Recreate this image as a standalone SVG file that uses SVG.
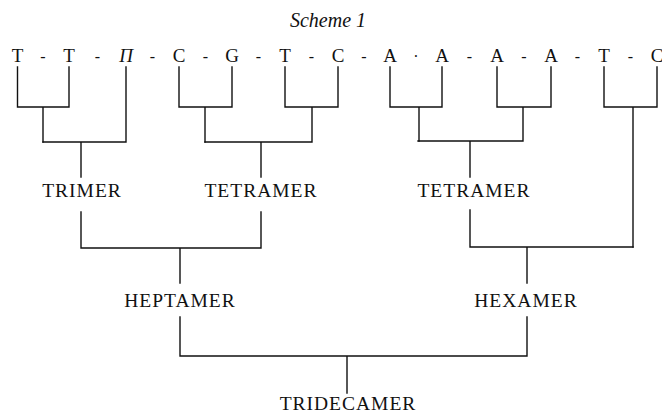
<svg xmlns="http://www.w3.org/2000/svg" width="662" height="413" viewBox="0 0 662 413">
<style>
.bg{fill:#ffffff}
.ln{fill:none;stroke:#111;stroke-width:1.4;stroke-linecap:square}
.seq{font-family:"Liberation Serif","Times New Roman",serif;font-size:19px;fill:#111;text-anchor:middle}
.dash{font-family:"Liberation Serif","Times New Roman",serif;font-size:16px;fill:#111;text-anchor:middle}
.lbl{font-family:"Liberation Serif","Times New Roman",serif;font-size:19.5px;letter-spacing:1px;fill:#111;text-anchor:middle}
.ttl{font-family:"Liberation Serif","Times New Roman",serif;font-size:20px;font-style:italic;fill:#111;text-anchor:middle}
</style>
<rect class="bg" x="0" y="0" width="662" height="413"/>
<text class="ttl" x="328" y="27">Scheme 1</text>
<g id="sequence">
<text class="seq" x="17.5" y="62">T</text>
<text class="seq" x="69" y="62">T</text>
<text class="seq" x="126" y="62" font-style="italic">П</text>
<text class="seq" x="179" y="62">C</text>
<text class="seq" x="232" y="62">G</text>
<text class="seq" x="285" y="62">T</text>
<text class="seq" x="338" y="62">C</text>
<text class="seq" x="390" y="62">A</text>
<text class="seq" x="442" y="62">A</text>
<text class="seq" x="497" y="62">A</text>
<text class="seq" x="551" y="62">A</text>
<text class="seq" x="604" y="62">T</text>
<text class="seq" x="657" y="62">C</text>
<text class="dash" x="43" y="62">-</text>
<text class="dash" x="97.5" y="62">-</text>
<text class="dash" x="152.5" y="62">-</text>
<text class="dash" x="205.5" y="62">-</text>
<text class="dash" x="258.5" y="62">-</text>
<text class="dash" x="311.5" y="62">-</text>
<text class="dash" x="364" y="62">-</text>
<text class="dash" x="416" y="62">·</text>
<text class="dash" x="469.5" y="62">-</text>
<text class="dash" x="524" y="62">-</text>
<text class="dash" x="577.5" y="62">-</text>
<text class="dash" x="630.5" y="62">-</text>
</g>
<g id="trimer"><text class="lbl" x="82" y="197">TRIMER</text></g>
<g id="tetramer1"><text class="lbl" x="261" y="197">TETRAMER</text></g>
<g id="tetramer2"><text class="lbl" x="474" y="197">TETRAMER</text></g>
<g id="heptamer"><text class="lbl" x="180" y="307">HEPTAMER</text></g>
<g id="hexamer"><text class="lbl" x="526" y="307">HEXAMER</text></g>
<g id="tridecamer"><text class="lbl" x="348" y="410">TRIDECAMER</text></g>
<g id="connectors">
<path class="ln" d="M17.5,67 V107 H69 V67 M43,107 V142"/>
<path class="ln" d="M126,67 V142 H43 M81,142 V177"/>
<path class="ln" d="M179,67 V107 H232 V67 M205,107 V142"/>
<path class="ln" d="M285,67 V107 H338 V67 M312,107 V142 H205 M261,142 V177"/>
<path class="ln" d="M390,67 V107 H442 V67 M419,107 V141"/>
<path class="ln" d="M497,67 V107 H551 V67 M523,107 V141 H418 M470,141 V177"/>
<path class="ln" d="M604,67 V107 H657 V67 M633,107 V247"/>
<path class="ln" d="M81,212 V248 H261 V212 M180,248 V283"/>
<path class="ln" d="M470,210 V247 H633 M527,247 V283"/>
<path class="ln" d="M180,317 V356 H527 V317 M347,356 V393"/>
</g>
</svg>
